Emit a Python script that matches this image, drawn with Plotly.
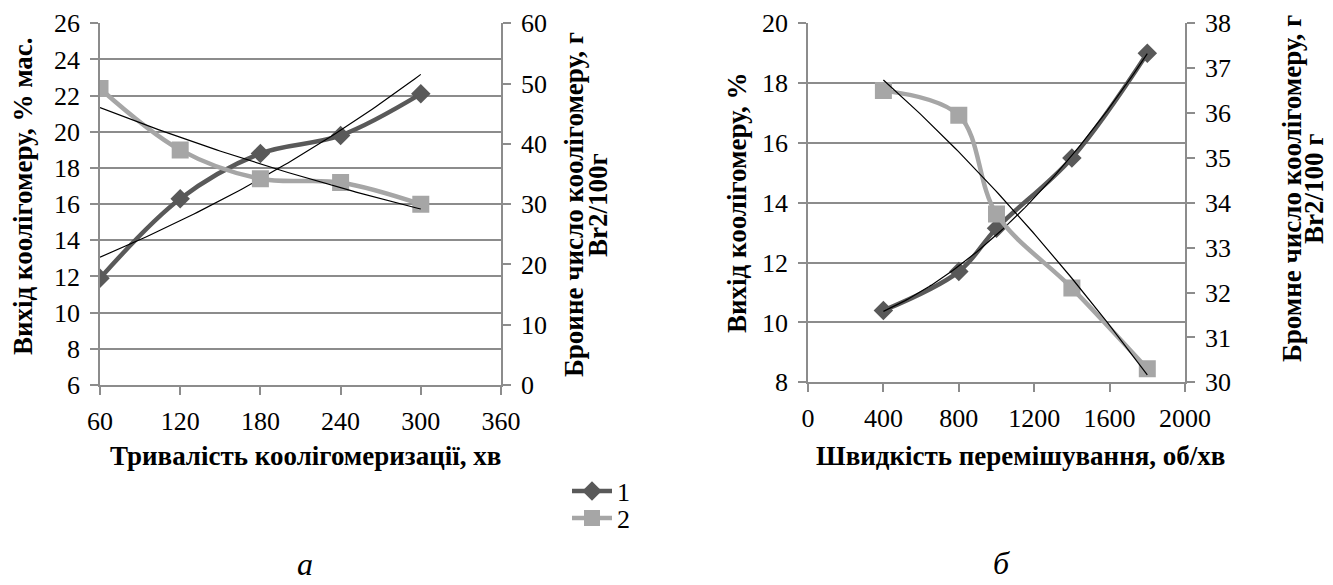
import numpy as np
import plotly.graph_objects as go

# ---- data: chart a ----
time_min = [60, 120, 180, 240, 300]
yield_a = [11.9, 16.3, 18.8, 19.8, 22.1]
bromine_a = [49.2, 39.0, 34.2, 33.6, 30.0]

# ---- data: chart b ----
speed_rpm = [400, 800, 1000, 1400, 1800]
yield_b = [10.4, 11.7, 13.15, 15.5, 19.0]
bromine_b = [36.5, 35.95, 33.75, 32.1, 30.3]

legend_names = ["1", "2"]

DARK = "#595959"
LIGHT = "#A6A6A6"
GRID = "#8C8C8C"
FONT = "Times New Roman, Liberation Serif, DejaVu Serif, serif"

OFF = 8  # browser default body margin
W, H = 1333 - OFF, 585 - OFF


def px_x(p):
    return (p - OFF) / W


def px_y(p):
    return 1 - (p - OFF) / H


def exp_trend(x, y, n=100):
    x = np.asarray(x, float)
    b, a = np.polyfit(x, np.log(np.asarray(y, float)), 1)
    xs = np.linspace(x.min(), x.max(), n)
    return xs, np.exp(a + b * xs)


def poly_trend(x, y, deg=2, n=100):
    x = np.asarray(x, float)
    c = np.polyfit(x, np.asarray(y, float), deg)
    xs = np.linspace(x.min(), x.max(), n)
    return xs, np.polyval(c, xs)


fig = go.Figure()

# chart a
fig.add_trace(go.Scatter(x=time_min, y=yield_a, mode="lines+markers", name=legend_names[0],
                         line=dict(color=DARK, width=4.5, shape="spline", smoothing=1),
                         marker=dict(symbol="diamond", size=15, color=DARK),
                         xaxis="x", yaxis="y", showlegend=True, legend="legend"))
fig.add_trace(go.Scatter(x=time_min, y=bromine_a, mode="lines+markers", name=legend_names[1],
                         line=dict(color=LIGHT, width=4.5, shape="spline", smoothing=1),
                         marker=dict(symbol="square", size=17, color=LIGHT),
                         xaxis="x", yaxis="y2", showlegend=True, legend="legend2"))
tx, ty = exp_trend(time_min, yield_a)
fig.add_trace(go.Scatter(x=tx, y=ty, mode="lines", line=dict(color="black", width=1.2),
                         xaxis="x", yaxis="y", showlegend=False, hoverinfo="skip"))
tx, ty = exp_trend(time_min, bromine_a)
fig.add_trace(go.Scatter(x=tx, y=ty, mode="lines", line=dict(color="black", width=1.2),
                         xaxis="x", yaxis="y2", showlegend=False, hoverinfo="skip"))

# chart b
fig.add_trace(go.Scatter(x=speed_rpm, y=yield_b, mode="lines+markers", name=legend_names[0],
                         line=dict(color=DARK, width=4.5, shape="spline", smoothing=1),
                         marker=dict(symbol="diamond", size=15, color=DARK),
                         xaxis="x2", yaxis="y3", showlegend=False))
fig.add_trace(go.Scatter(x=speed_rpm, y=bromine_b, mode="lines+markers", name=legend_names[1],
                         line=dict(color=LIGHT, width=4.5, shape="spline", smoothing=1),
                         marker=dict(symbol="square", size=17, color=LIGHT),
                         xaxis="x2", yaxis="y4", showlegend=False))
tx, ty = poly_trend(speed_rpm, yield_b)
fig.add_trace(go.Scatter(x=tx, y=ty, mode="lines", line=dict(color="black", width=1.2),
                         xaxis="x2", yaxis="y3", showlegend=False, hoverinfo="skip"))
tx, ty = poly_trend(speed_rpm, bromine_b)
fig.add_trace(go.Scatter(x=tx, y=ty, mode="lines", line=dict(color="black", width=1.2),
                         xaxis="x2", yaxis="y4", showlegend=False, hoverinfo="skip"))

tickfont = dict(family=FONT, size=26, color="black")
axis_common = dict(showline=True, linecolor=GRID, linewidth=1.5, ticks="outside",
                   tickcolor=GRID, ticklen=8, tickwidth=1.5, tickfont=tickfont,
                   zeroline=False, fixedrange=True, automargin=False)

dom_xa = [px_x(100), px_x(501)]
dom_ya = [px_y(385), px_y(23.3)]
dom_xb = [px_x(808), px_x(1185)]
dom_yb = [px_y(382.3), px_y(23.3)]

leg_common = dict(xanchor="left", yanchor="middle", font=dict(family=FONT, size=26, color="black"),
                  bgcolor="rgba(0,0,0,0)", itemwidth=40)

fig.update_layout(
    width=W, height=H,
    margin=dict(l=0, r=0, t=0, b=0, autoexpand=False),
    paper_bgcolor="white", plot_bgcolor="white",
    font=dict(family=FONT, color="black"),
    xaxis=dict(domain=dom_xa, range=[60, 360], tickvals=[60, 120, 180, 240, 300, 360],
               showgrid=False, anchor="y", ticklabelstandoff=4, **axis_common),
    yaxis=dict(domain=dom_ya, range=[6, 26], dtick=2, tick0=6, showgrid=True,
               gridcolor=GRID, gridwidth=1.5, anchor="x", ticklabelstandoff=5, **axis_common),
    yaxis2=dict(range=[0, 60], dtick=10, overlaying="y", side="right", anchor="x",
                showgrid=False, ticklabelstandoff=5, **axis_common),
    xaxis2=dict(domain=dom_xb, range=[0, 2000], tickvals=[0, 400, 800, 1200, 1600, 2000],
                showgrid=False, anchor="y3", ticklabelstandoff=4, **axis_common),
    yaxis3=dict(domain=dom_yb, range=[8, 20], dtick=2, tick0=8, showgrid=True,
                gridcolor=GRID, gridwidth=1.5, anchor="x2", ticklabelstandoff=5, **axis_common),
    yaxis4=dict(range=[30, 38], dtick=1, overlaying="y3", side="right", anchor="x2",
                showgrid=False, ticklabelstandoff=5, **axis_common),
    legend=dict(x=px_x(567), y=px_y(491), **leg_common),
    legend2=dict(x=px_x(567), y=px_y(518), **leg_common),
)

title_font = dict(family=FONT, size=27, color="black")
ann = [
    dict(text="<b>Вихід коолігомеру, % мас.</b>", x=px_x(23), y=px_y(196), textangle=-90),
    dict(text="<b>Броине число коолігомеру, г</b>", x=px_x(574), y=px_y(205), textangle=-90),
    dict(text="<b>Br2/100г</b>", x=px_x(598), y=px_y(205), textangle=-90),
    dict(text="<b>Тривалість коолігомеризації, хв</b>", x=px_x(305), y=px_y(456), textangle=0),
    dict(text="<b>Вихід коолігомеру, %</b>", x=px_x(737), y=px_y(203), textangle=-90),
    dict(text="<b>Бромне число коолігомеру, г</b>", x=px_x(1292), y=px_y(189), textangle=-90),
    dict(text="<b>Br2/100 г</b>", x=px_x(1314), y=px_y(189), textangle=-90),
    dict(text="<b>Швидкість перемішування, об/хв</b>", x=px_x(1020), y=px_y(456), textangle=0),
]
for a in ann:
    fig.add_annotation(xref="paper", yref="paper", showarrow=False, font=title_font,
                       xanchor="center", yanchor="middle", **a)

for t, xp, yp in [("а", 305, 564), ("б", 1001, 563)]:
    fig.add_annotation(xref="paper", yref="paper", x=px_x(xp), y=px_y(yp), text=f"<i>{t}</i>",
                       showarrow=False, font=dict(family=FONT, size=32, color="black"),
                       xanchor="center", yanchor="middle")

fig.write_html("out.html")
